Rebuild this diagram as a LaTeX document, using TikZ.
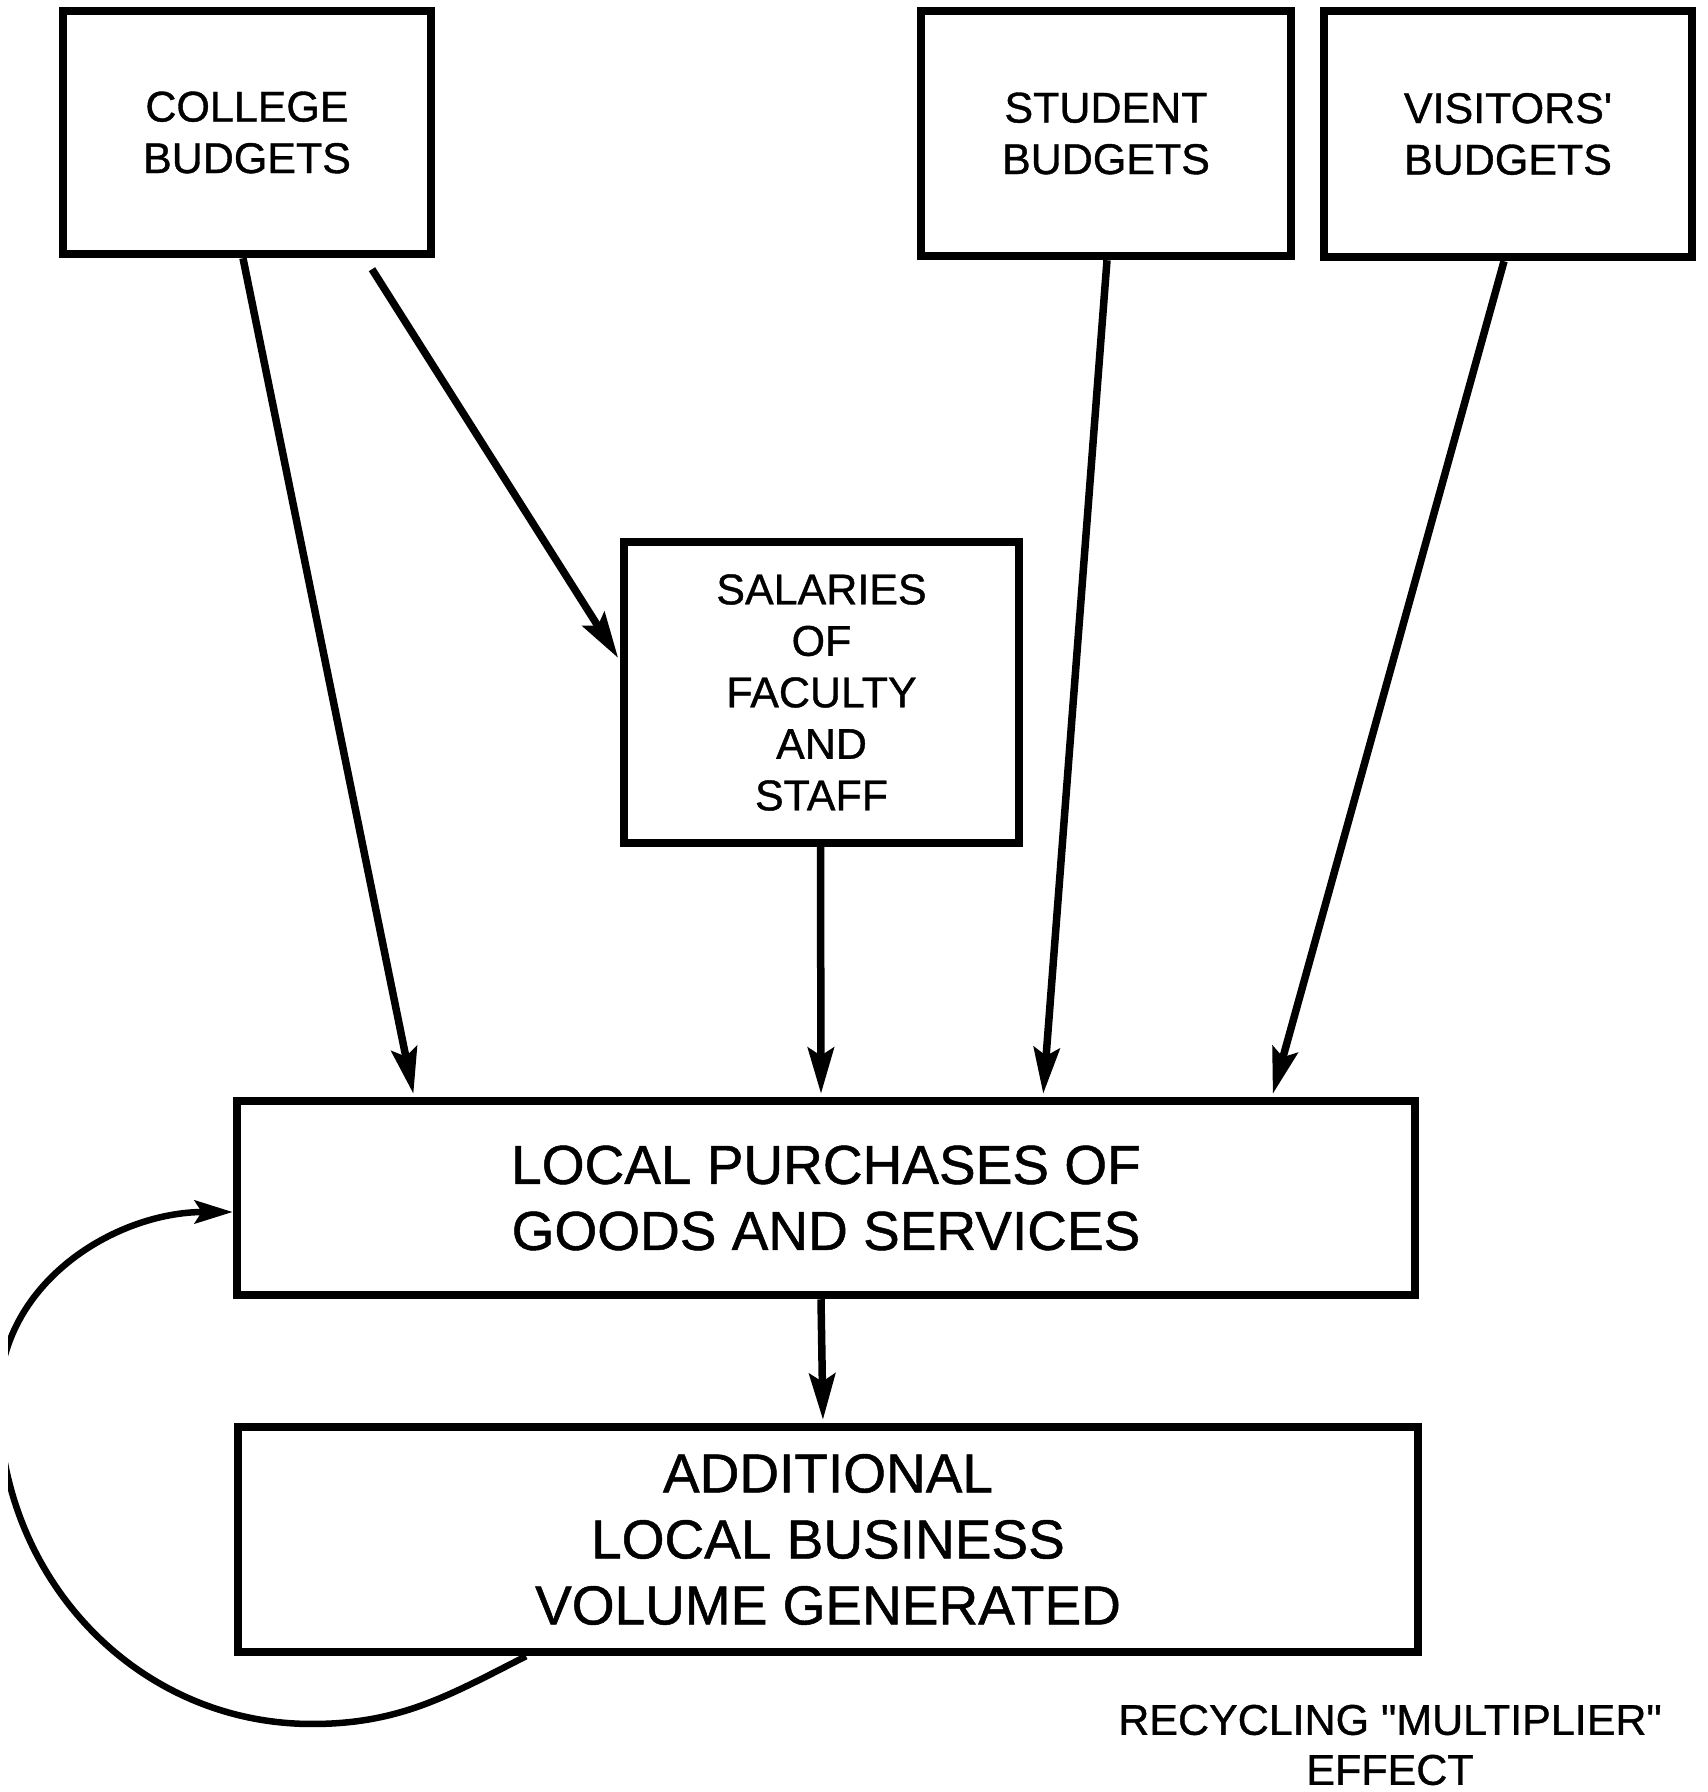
\documentclass[tikz,border=0pt]{standalone}
\usepackage{fontspec}
\setmainfont{Liberation Sans}[Ligatures=TeXOff,FakeBold=0.9]
\usetikzlibrary{arrows.meta,calc}
\begin{document}
\begin{tikzpicture}[x=1pt,y=1pt,
  box/.style={draw,line width=8.5pt,inner sep=0pt,align=center,font=\fontsize{43}{51.5}\selectfont},
  bigbox/.style={box,font=\fontsize{55}{66}\selectfont},
  arr/.style={line width=7.5pt,shorten >=3pt,-{Stealth[length=46pt,width=26pt,inset=8pt]}},
  looparr/.style={line width=6.5pt,-{Stealth[length=38pt,width=23pt,inset=7pt]}},
  lbl/.style={align=center,inner sep=0pt,font=\fontsize{43}{50}\selectfont}
]
\useasboundingbox (0,0) rectangle (1708,1792);
\fill[white] (0,0) rectangle (1708,1792);

\node[box,minimum width=368pt,minimum height=243pt] (college) at (247,1659.5) {COLLEGE\\BUDGETS};
\node[box,minimum width=370pt,minimum height=245pt] (student) at (1106,1658.5) {STUDENT\\BUDGETS};
\node[box,minimum width=368pt,minimum height=246pt] (visitors) at (1508,1658) {VISITORS'\\BUDGETS};
\node[box,minimum width=395pt,minimum height=301pt] (salaries) at (821.5,1099.5) {SALARIES\\OF\\FACULTY\\AND\\STAFF};
\node[bigbox,minimum width=1178pt,minimum height=194pt] (local) at (826,594) {LOCAL PURCHASES OF\\GOODS AND SERVICES};
\node[bigbox,minimum width=1180pt,minimum height=225pt] (additional) at (828,252.5) {ADDITIONAL\\LOCAL BUSINESS\\VOLUME GENERATED};
\node[lbl] (recycle) at (1390,47) {RECYCLING "MULTIPLIER"\\EFFECT};

\draw[arr] ([xshift=-4pt]college.south) -- ([xshift=-412pt]local.north);
\draw[arr] ([xshift=125pt,yshift=-11pt]college.south) -- ([yshift=32pt]salaries.west);
\draw[arr] ([xshift=-1pt]salaries.south) -- ([xshift=-5pt]local.north);
\draw[arr] ([xshift=1pt]student.south) -- ([xshift=217pt]local.north);
\draw[arr] ([xshift=-4pt]visitors.south) -- ([xshift=446pt]local.north);
\draw[arr] ([xshift=-5pt]local.south) -- ([xshift=-5pt]additional.north);

\begin{scope}
  \clip (8,0) rectangle (1708,1792);
  \coordinate (lbot) at (312,68);
  \coordinate (lleft) at (-1,392);
  \draw[looparr] ([xshift=-302pt]additional.south) to[out=207,in=0] (lbot)
    to[out=180,in=-90] (lleft) to[out=90,in=180] ([yshift=-14pt]local.west);
\end{scope}
\end{tikzpicture}
\end{document}
